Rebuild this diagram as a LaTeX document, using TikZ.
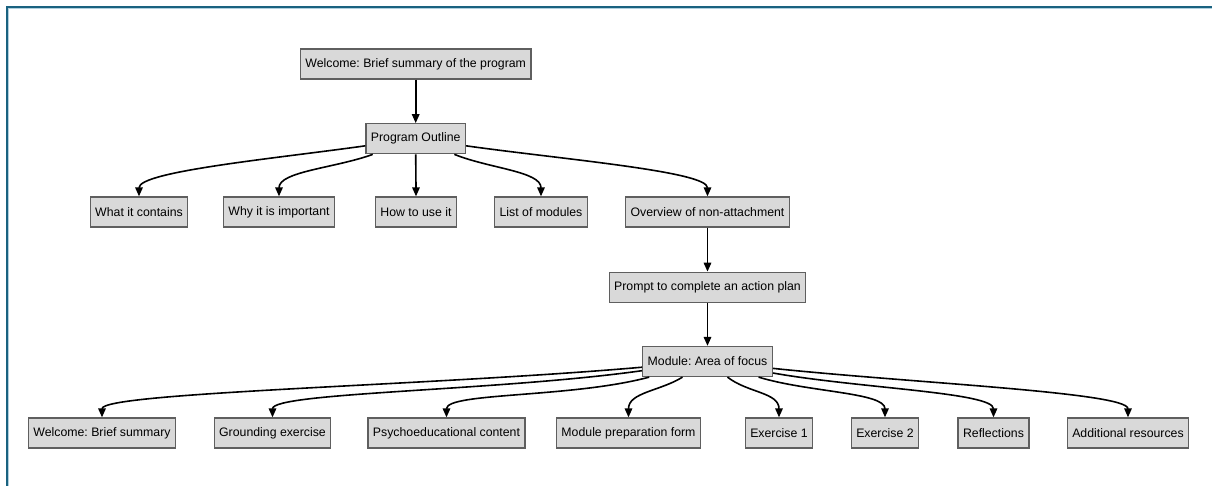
\documentclass[tikz,border=0pt]{standalone}
\usepackage{fontspec}
\setmainfont{Liberation Sans}
\usetikzlibrary{positioning,arrows.meta}
\definecolor{boxgray}{RGB}{217,217,217}
\definecolor{edgegray}{RGB}{95,95,95}
\definecolor{frameteal}{RGB}{26,98,128}
\definecolor{framelight}{RGB}{176,208,222}

\begin{document}
\frenchspacing
\begin{tikzpicture}[
    x=0.2mm, y=-0.2mm,
    every node/.style={draw=edgegray, line width=0.25mm, fill=boxgray, inner xsep=1mm, minimum height=6mm, font=\fontsize{7}{8}\selectfont},
    link/.style={draw, line width=0.32mm, in distance=5mm, -{Triangle[length=1.8mm, width=1.5mm]}}
]
\useasboundingbox (0,0) rectangle (1212,486);
% frame
\draw[framelight, line width=0.2mm] (8.5,486) -- (8.5,8.5) -- (1212,8.5);
\draw[frameteal, line width=0.3mm] (7,486) -- (7,7) -- (1212,7);

% program
\node (welcome) at (415.7,64) {Welcome: Brief summary of the program};
\node[below=8.7mm of welcome] (outline) {Program Outline};

\node (contains) at (139,212) {What it contains};
\node (why) at (279,212) {Why it is important};
\node (howto) at (416,212) {How to use it};
\node (modlist) at (541,212) {List of modules};
\node (overview) at (707.5,212) {Overview of non-attachment};
\node[below=8.8mm of overview] (prompt) {Prompt to complete an action plan};
\node[below=8.6mm of prompt] (module) {Module: Area of focus};

% module parts
\node (wbrief) at (102,433) {Welcome: Brief summary};
\node (grounding) at (272.5,433) {Grounding exercise};
\node (psycho) at (446.5,433) {Psychoeducational content};
\node (prepform) at (628.5,433) {Module preparation form};
\node (exone) at (779,433) {Exercise 1};
\node (extwo) at (885,433) {Exercise 2};
\node (reflect) at (993.5,433) {Reflections};
\node (resources) at (1128,433) {Additional resources};

\draw[link] (welcome) -- (outline);
\foreach \kid/\ang in {contains/188, why/200, howto/270, modlist/338, overview/352}
    \draw[link] (outline) to[out=\ang, in=90] (\kid);
\draw[link] (overview) -- (prompt);
\draw[link] (prompt) -- (module);
\foreach \kid/\ang in {wbrief/185, grounding/188, psycho/195, prepform/212, exone/322, extwo/343, reflect/350, resources/354}
    \draw[link] (module) to[out=\ang, in=90] (\kid);
\end{tikzpicture}
\end{document}
